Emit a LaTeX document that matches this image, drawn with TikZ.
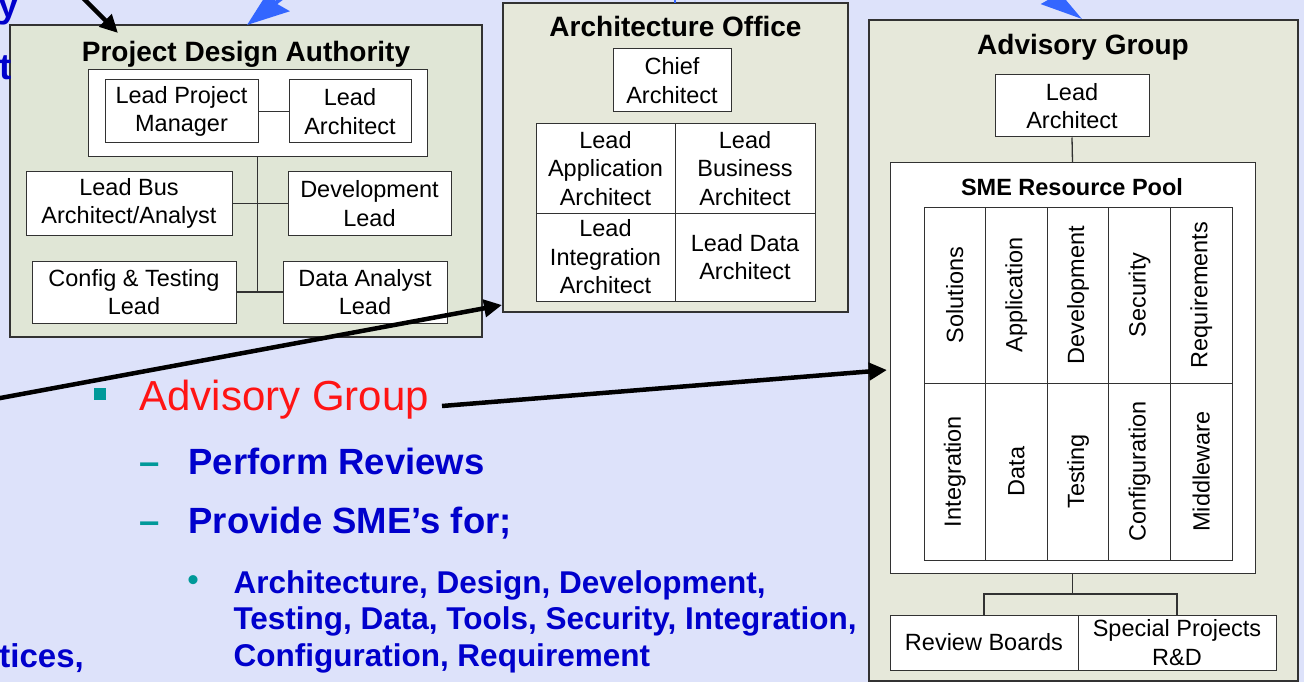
\documentclass[tikz,border=0pt]{standalone}
\usepackage{fontspec}
\setmainfont{Liberation Sans}
\usetikzlibrary{arrows.meta}
\definecolor{slidebg}{RGB}{221,226,250}
\definecolor{pdafill}{RGB}{224,230,214}
\definecolor{grpfill}{RGB}{230,232,218}
\definecolor{txtblue}{RGB}{0,0,204}
\definecolor{agred}{RGB}{255,20,20}
\definecolor{bullteal}{RGB}{0,153,153}
\definecolor{arrblue}{RGB}{51,102,255}
\definecolor{edge}{RGB}{50,50,50}
\begin{document}
\begin{tikzpicture}[x=1pt,y=-1pt,
  grp/.style={draw=edge, line width=1.3pt},
  pbox/.style={draw=edge, fill=white, line width=1pt, align=center, inner sep=0pt,
    font=\fontsize{23.5}{28.5}\selectfont},
  cellbox/.style={pbox, rotate=90, minimum width=176pt, minimum height=61.6pt},
  ttl/.style={anchor=base, font=\bfseries\fontsize{28}{32}\selectfont},
  conn/.style={draw=edge, line width=1.3pt},
  bigarrow/.style={draw=black, line width=4.5pt, -{Triangle[length=18pt,width=17pt]}},
  bluearrow/.style={draw=arrblue, line width=4pt, -{Stealth[length=42pt,width=30pt,inset=6pt]}},
  bultxt/.style={anchor=base west, text=txtblue, font=\bfseries\fontsize{36.5}{42}\selectfont},
  subtxt/.style={anchor=base west, text=txtblue, align=left, font=\bfseries\fontsize{31.5}{36.5}\selectfont},
  dashmark/.style={anchor=base west, text=bullteal, font=\bfseries\fontsize{36.5}{42}\selectfont}
]
\useasboundingbox (0,0) rectangle (1304,682);
\clip (0,0) rectangle (1304,682);
\fill[slidebg] (0,0) rectangle (1304,682);

% ---------- Project Design Authority ----------
\node[grp, fill=pdafill, minimum width=472pt, minimum height=312pt, inner sep=0pt] (pda) at (246,181) {};
\node[ttl] (pdat) at (246,62) {Project Design Authority};
\node[pbox, minimum width=339pt, minimum height=87pt] (pmwrap) at (257.5,113.5) {};
\node[pbox, minimum width=153pt, minimum height=63pt] (lpm) at (181.5,111.5) {Lead Project\\Manager};
\node[pbox, minimum width=122pt, minimum height=63pt] (la1) at (350,111.5) {Lead\\Architect};
\node[pbox, minimum width=206pt, minimum height=63pt] (lba) at (129,203.5) {Lead Bus\\Architect/Analyst};
\node[pbox, minimum width=163pt, minimum height=63pt] (dev) at (369.5,203.5) {Development\\Lead};
\node[pbox, minimum width=204pt, minimum height=62pt] (cfg) at (134,292) {Config \& Testing\\Lead};
\node[pbox, minimum width=164pt, minimum height=62pt] (dal) at (365,292) {Data Analyst\\Lead};
\coordinate (j2) at (257.5,292);
\draw[conn] (lpm.east) -- (la1.west);
\draw[conn] (pmwrap.south) -- (j2);
\draw[conn] (lba.east) -- (dev.west);
\draw[conn] (cfg.east) -- (dal.west);

% ---------- Architecture Office ----------
\node[grp, fill=grpfill, minimum width=345pt, minimum height=309pt, inner sep=0pt] (ao) at (675.5,157.5) {};
\node[ttl] (aot) at (675.5,37) {Architecture Office};
\node[pbox, minimum width=118pt, minimum height=63pt] (chief) at (672,80.5) {Chief\\Architect};
\node[pbox, minimum width=139pt, minimum height=89pt] (app) at (605.5,168.5) {Lead\\Application\\Architect};
\node[pbox, minimum width=140pt, minimum height=89pt] (bus) at (745,168.5) {Lead\\Business\\Architect};
\node[pbox, minimum width=139pt, minimum height=88pt] (integ) at (605.5,257) {Lead\\Integration\\Architect};
\node[pbox, minimum width=140pt, minimum height=88pt] (ldata) at (745,257) {Lead Data\\Architect};

% ---------- Advisory Group ----------
\node[grp, fill=grpfill, minimum width=429pt, minimum height=661pt, inner sep=0pt] (ag) at (1083.5,350.5) {};
\node[ttl] (agt) at (1083,55) {Advisory Group};
\node[pbox, minimum width=154pt, minimum height=62pt] (la2) at (1072,106) {Lead\\Architect};
\node[pbox, minimum width=365pt, minimum height=410pt] (sme) at (1072.5,368) {};
\node[anchor=base, font=\bfseries\fontsize{23.5}{28}\selectfont] (smet) at (1072,195) {SME Resource Pool};
\node[cellbox] (c1) at (954.8,295) {Solutions};
\node[cellbox] (c2) at (1016.4,295) {Application};
\node[cellbox] (c3) at (1078,295) {Development};
\node[cellbox] (c4) at (1139.6,295) {Security};
\node[cellbox] (c5) at (1201.2,295) {Requirements};
\node[cellbox, minimum width=177pt] (c6) at (954.8,471.5) {Integration};
\node[cellbox, minimum width=177pt] (c7) at (1016.4,471.5) {Data};
\node[cellbox, minimum width=177pt] (c8) at (1078,471.5) {Testing};
\node[cellbox, minimum width=177pt] (c9) at (1139.6,471.5) {Configuration};
\node[cellbox, minimum width=177pt] (c10) at (1201.2,471.5) {Middleware};
\node[pbox, minimum width=188pt, minimum height=55pt] (rev) at (984,642.5) {Review Boards};
\node[pbox, minimum width=198pt, minimum height=55pt] (spr) at (1177,642.5) {Special Projects\\R\&D};
\draw[conn] (la2.south) -- (sme.north);
\coordinate (bj) at (1072.5,594);
\draw[conn] (sme.south) -- (bj);
\draw[conn] (rev.north) -- (rev.north |- bj) -- (spr.north |- bj) -- (spr.north);

% ---------- bullet text ----------
\node[fill=bullteal, minimum size=12pt, inner sep=0pt] (sq) at (99.5,394) {};
\node[anchor=base west, text=agred, font=\fontsize{42}{48}\selectfont] (agtxt) at (136,410) {Advisory Group};
\node[dashmark] (d1) at (136,474) {–};
\node[bultxt] (pr) at (185,474) {Perform Reviews};
\node[dashmark] (d2) at (136,533) {–};
\node[bultxt] (ps) at (185,533) {Provide SME’s for;};
\node[anchor=base west, text=bullteal, font=\bfseries\fontsize{31.5}{36}\selectfont] (dot) at (184,590) {•};
\node[subtxt, anchor=north west] (list) at (230,567) {Architecture, Design, Development,\\Testing, Data, Tools, Security, Integration,\\Configuration, Requirement};
\node[bultxt, anchor=base east, inner sep=0pt] (py) at (19,18) {y};
\node[bultxt, anchor=base east, inner sep=0pt] (pt) at (12,80) {t};
\node[bultxt, anchor=base east, inner sep=0pt, font=\bfseries\fontsize{33}{38}\selectfont] (pc) at (84,667) {tices,};

% ---------- arrows ----------
\coordinate (a1s) at (76,-9);
\coordinate (a1e) at (118,33);
\draw[bigarrow] (a1s) -- (a1e);
\coordinate (a5s) at (-5,399);
\coordinate (a5e) at (502,305);
\draw[bigarrow] (a5s) -- (a5e);
\coordinate (a6s) at (442,406);
\coordinate (a6e) at (887,370);
\draw[bigarrow] (a6s) -- (a6e);
\coordinate (b1s) at (326,-36);
\coordinate (b1e) at (247,25);
\draw[bluearrow] (b1s) -- (b1e);
\coordinate (b2s) at (1000,-38);
\coordinate (b2e) at (1082,19);
\draw[bluearrow, -{Stealth[length=42pt,width=22pt,inset=5pt]}] (b2s) -- (b2e);
\coordinate (b3s) at (675,-20);
\coordinate (b3e) at (675,3);
\draw[arrblue, line width=1.5pt] (b3s) -- (b3e);
\end{tikzpicture}
\end{document}
